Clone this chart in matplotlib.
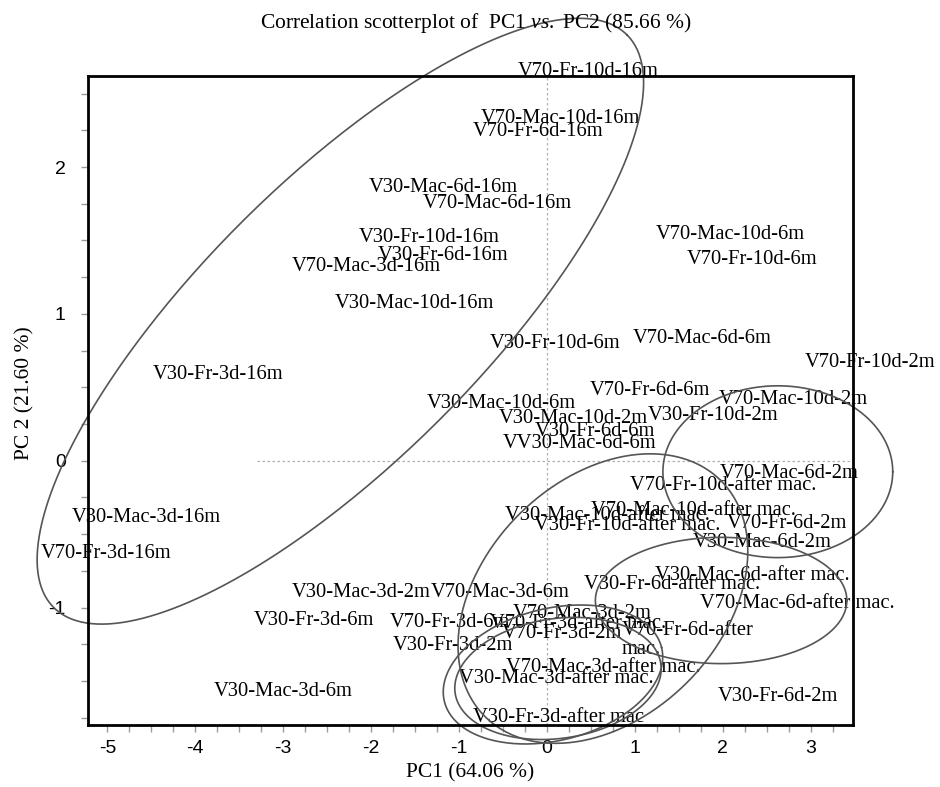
import numpy as np
import matplotlib
matplotlib.use("Agg")
import matplotlib.pyplot as plt
from matplotlib.ticker import MultipleLocator

plt.rcParams['font.family'] = 'Liberation Sans'
plt.rcParams['axes.unicode_minus'] = False
plt.rcParams['mathtext.fontset'] = 'custom'
plt.rcParams['mathtext.rm'] = 'Liberation Serif'
plt.rcParams['mathtext.it'] = 'Liberation Serif:italic'

# sample labels and their PCA scores
labels = [
    "V70-Fr-10d-16m", "V70-Mac-10d-16m", "V70-Fr-6d-16m", "V30-Mac-6d-16m",
    "V70-Mac-6d-16m", "V30-Fr-10d-16m", "V30-Fr-6d-16m", "V70-Mac-3d-16m",
    "V30-Mac-10d-16m", "V30-Fr-3d-16m", "V30-Mac-3d-16m", "V70-Fr-3d-16m",
    "V70-Mac-10d-6m", "V70-Fr-10d-6m", "V30-Fr-10d-6m", "V70-Mac-6d-6m",
    "V70-Fr-6d-6m", "V30-Mac-10d-6m", "V30-Fr-6d-6m", "VV30-Mac-6d-6m",
    "V70-Mac-3d-6m", "V30-Fr-3d-6m", "V70-Fr-3d-6m", "V30-Mac-3d-6m",
    "V70-Fr-10d-2m", "V70-Mac-10d-2m", "V30-Mac-10d-2m", "V30-Fr-10d-2m",
    "V70-Mac-6d-2m", "V70-Fr-6d-2m", "V30-Mac-6d-2m", "V30-Mac-3d-2m",
    "V70-Mac-3d-2m", "V70-Fr-3d-2m", "V30-Fr-3d-2m", "V30-Fr-6d-2m",
    "V70-Fr-10d-after mac.", "V70-Mac-10d-after mac.", "V30-Mac-10d-after mac.",
    "V30-Fr-10d-after mac.", "V30-Mac-6d-after mac.", "V30-Fr-6d-after mac.",
    "V70-Mac-6d-after mac.", "V70-Fr-3d-after mac.", "V70-Fr-6d-after\nmac.",
    "V70-Mac-3d-after mac.", "V30-Mac-3d-after mac.", "V30-Fr-3d-after mac",
]
pc1 = [
    0.47, 0.15, -0.10, -1.18,
    -0.56, -1.34, -1.18, -2.06,
    -1.51, -3.74, -4.56, -5.02,
    2.09, 2.33, 0.09, 1.77,
    1.17, -0.52, 0.55, 0.375,
    -0.53, -2.65, -1.10, -3.00,
    3.67, 2.80, 0.30, 1.89,
    2.76, 2.73, 2.45, -2.11,
    0.40, 0.17, -1.07, 2.625,
    2.00, 1.66, 0.69,
    0.91, 2.34, 1.42,
    2.85, 0.35, 1.60,
    0.64, 0.11, 0.13,
]
pc2 = [
    2.65, 2.33, 2.24, 1.86,
    1.75, 1.52, 1.40, 1.32,
    1.07, 0.59, -0.39, -0.63,
    1.54, 1.37, 0.80, 0.83,
    0.48, 0.39, 0.20, 0.12,
    -0.90, -1.09, -1.10, -1.57,
    0.67, 0.415, 0.29, 0.31,
    -0.09, -0.43, -0.56, -0.90,
    -1.04, -1.18, -1.26, -1.605,
    -0.17, -0.34, -0.37,
    -0.44, -0.78, -0.84,
    -0.97, -1.11, -1.22,
    -1.41, -1.48, -1.75,
]

# confidence ellipses: centre and two conjugate semi-axes
ell_cx = [-2.35, 2.625, 1.98, 0.636, 0.125, 0.068]
ell_cy = [0.95, -0.075, -0.952, -0.939, -1.483, -1.456]
ell_ux = [3.26, 1.307, 1.43, 1.342, 1.17, 1.235]
ell_uy = [1.95, 0.0, 0.0, 0.803, 0.099, 0.184]
ell_vx = [1.125, 0.0, 0.0, 0.956, 0.095, 0.18]
ell_vy = [-0.673, 0.585, 0.43, -0.572, -0.404, -0.436]

xlim = (-5.22, 3.48)
ylim = (-1.80, 2.62)

serif = 'Liberation Serif'

fig = plt.figure(figsize=(9.4, 7.87), dpi=100)
ax = fig.add_axes([88 / 940, 1 - 725 / 787, 765 / 940, 649 / 787])
ax.set_xlim(*xlim)
ax.set_ylim(*ylim)

# dotted origin lines
ax.axvline(0, color='#b0b0b0', lw=0.9, ls=(0, (2, 2)), zorder=1)
ax.hlines(0, -3.3, xlim[1], color='#b0b0b0', lw=0.9, ls=(0, (2, 2)), zorder=1)

t = np.linspace(0, 2 * np.pi, 400)
for cx, cy, ux, uy, vx, vy in zip(ell_cx, ell_cy, ell_ux, ell_uy, ell_vx, ell_vy):
    ex = cx + ux * np.cos(t) + vx * np.sin(t)
    ey = cy + uy * np.cos(t) + vy * np.sin(t)
    ax.plot(ex, ey, color='#555555', lw=1.2, clip_on=False, zorder=3)

for lab, x, y in zip(labels, pc1, pc2):
    ax.text(x, y, lab, ha='center', va='center', family=serif, fontsize=14.8,
            multialignment='left', linespacing=1.0, clip_on=False, zorder=2)

ax.xaxis.set_major_locator(MultipleLocator(1))
ax.xaxis.set_minor_locator(MultipleLocator(0.25))
ax.yaxis.set_major_locator(MultipleLocator(1))
ax.yaxis.set_minor_locator(MultipleLocator(0.25))
ax.tick_params(which='both', direction='out', length=5, width=1, color='#9a9a9a')
ax.tick_params(axis='x', labelsize=14, pad=6)
ax.tick_params(axis='y', labelsize=14, pad=11)
for s in ax.spines.values():
    s.set_linewidth(2)
    s.set_color('black')
    s.set_zorder(4)

fig.text(476 / 940, 1 - 23 / 787,
         r"Correlation scotterplot of  PC1 $\mathit{vs.}$ PC2 (85.66 %)",
         ha='center', va='center', family=serif, fontsize=15.5)
fig.text(470 / 940, 1 - 773 / 787, "PC1 (64.06 %)", ha='center', va='center',
         family=serif, fontsize=15.5)
fig.text(25 / 940, 1 - 393 / 787, "PC 2 (21.60 %)", ha='center', va='center',
         rotation=90, family=serif, fontsize=15.5)

fig.savefig("out.png", dpi=100)
